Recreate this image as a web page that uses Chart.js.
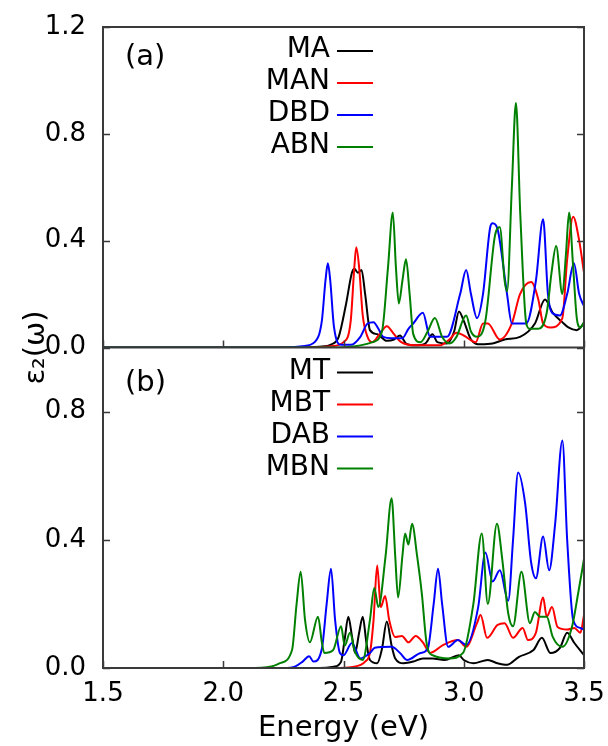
<!DOCTYPE html>
<html>
<head>
<meta charset="utf-8">
<script src="https://cdn.jsdelivr.net/npm/chart.js@4.4.1/dist/chart.umd.min.js"></script>
<style>
  html, body { margin: 0; padding: 0; background: #fff; }
  #wrap { width: 608px; height: 746px; position: relative; }
</style>
</head>
<body>
<div id="wrap"><canvas id="epsChart"></canvas></div>
<script>
// energy ticks (eV) and panel tick labels
const xTicks = [1.5, 2.0, 2.5, 3.0, 3.5];
const topTicks = [0.0, 0.4, 0.8, 1.2];
const bottomTicks = [0.0, 0.4, 0.8];

// panel (a) series, [energy, eps2]
const MA = [[1.5,0],[2.3,0],[2.4,0.003],[2.45,0.012],[2.48,0.04],[2.51,0.16],[2.535,0.28],[2.545,0.295],[2.56,0.28],[2.575,0.29],[2.59,0.2],[2.61,0.065],[2.64,0.05],[2.68,0.025],[2.71,0.03],[2.735,0.045],[2.76,0.015],[2.8,0.008],[2.84,0.015],[2.87,0.05],[2.89,0.02],[2.93,0.015],[2.96,0.06],[2.98,0.135],[3.0,0.1],[3.03,0.03],[3.07,0.012],[3.12,0.015],[3.17,0.03],[3.234,0.04],[3.296,0.09],[3.338,0.18],[3.37,0.13],[3.41,0.095],[3.435,0.075],[3.47,0.065],[3.5,0.09]];
const MAN = [[1.5,0],[2.35,0],[2.45,0.005],[2.5,0.02],[2.53,0.1],[2.545,0.3],[2.553,0.375],[2.565,0.3],[2.58,0.12],[2.6,0.04],[2.62,0.02],[2.65,0.05],[2.68,0.08],[2.71,0.05],[2.74,0.02],[2.8,0.008],[2.9,0.008],[2.94,0.03],[2.97,0.055],[3.0,0.045],[3.05,0.02],[3.08,0.09],[3.1,0.09],[3.15,0.03],[3.2,0.09],[3.234,0.2],[3.28,0.245],[3.31,0.18],[3.33,0.09],[3.36,0.075],[3.41,0.11],[3.43,0.33],[3.455,0.49],[3.48,0.4],[3.5,0.28]];
const DBD = [[1.5,0],[2.25,0],[2.33,0.005],[2.38,0.02],[2.41,0.1],[2.425,0.25],[2.435,0.315],[2.445,0.25],[2.46,0.08],[2.49,0.01],[2.53,0.01],[2.57,0.04],[2.6,0.09],[2.625,0.095],[2.645,0.07],[2.665,0.04],[2.7,0.035],[2.745,0.035],[2.77,0.07],[2.79,0.09],[2.83,0.13],[2.86,0.04],[2.93,0.04],[2.985,0.2],[3.01,0.29],[3.03,0.2],[3.055,0.11],[3.08,0.2],[3.11,0.45],[3.12,0.465],[3.14,0.445],[3.18,0.2],[3.2,0.09],[3.26,0.09],[3.3,0.25],[3.33,0.48],[3.35,0.2],[3.367,0.13],[3.4,0.12],[3.43,0.2],[3.458,0.315],[3.48,0.2],[3.5,0.155]];
const ABN = [[1.5,0],[2.45,0],[2.55,0.005],[2.62,0.02],[2.66,0.06],[2.685,0.3],[2.705,0.505],[2.718,0.3],[2.73,0.165],[2.745,0.25],[2.76,0.33],[2.775,0.2],[2.79,0.05],[2.82,0.02],[2.85,0.06],[2.88,0.11],[2.91,0.04],[2.94,0.015],[2.97,0.04],[3.0,0.11],[3.01,0.12],[3.03,0.06],[3.055,0.04],[3.09,0.1],[3.13,0.42],[3.15,0.45],[3.17,0.25],[3.18,0.21],[3.2,0.6],[3.217,0.915],[3.235,0.5],[3.26,0.09],[3.275,0.07],[3.31,0.07],[3.345,0.13],[3.365,0.28],[3.384,0.38],[3.41,0.2],[3.425,0.35],[3.438,0.505],[3.455,0.3],[3.47,0.11],[3.485,0.075],[3.5,0.095]];

// panel (b) series
const MT = [[1.5,0],[2.4,0],[2.46,0.004],[2.49,0.02],[2.505,0.09],[2.52,0.16],[2.535,0.1],[2.548,0.047],[2.565,0.11],[2.58,0.16],[2.595,0.08],[2.61,0.025],[2.64,0.015],[2.66,0.06],[2.68,0.145],[2.7,0.07],[2.715,0.03],[2.75,0.015],[2.79,0.02],[2.83,0.03],[2.87,0.03],[2.92,0.025],[2.98,0.04],[3.0,0.025],[3.04,0.015],[3.1,0.025],[3.14,0.015],[3.18,0.01],[3.23,0.035],[3.29,0.056],[3.325,0.094],[3.36,0.047],[3.4,0.063],[3.43,0.11],[3.46,0.078],[3.5,0.04]];
const MBT = [[1.5,0],[2.45,0],[2.55,0.005],[2.59,0.02],[2.61,0.047],[2.625,0.15],[2.64,0.32],[2.655,0.19],[2.673,0.225],[2.69,0.15],[2.715,0.097],[2.743,0.1],[2.77,0.08],[2.8,0.1],[2.83,0.08],[2.86,0.047],[2.915,0.072],[2.976,0.087],[3.01,0.066],[3.055,0.14],[3.07,0.165],[3.097,0.094],[3.14,0.134],[3.17,0.14],[3.205,0.094],[3.245,0.125],[3.267,0.087],[3.3,0.11],[3.33,0.22],[3.345,0.16],[3.367,0.19],[3.39,0.128],[3.43,0.12],[3.46,0.125],[3.485,0.11],[3.5,0.165]];
const DAB = [[1.5,0],[2.25,0],[2.3,0.005],[2.33,0.02],[2.357,0.037],[2.375,0.02],[2.41,0.06],[2.43,0.2],[2.448,0.31],[2.465,0.15],[2.485,0.047],[2.5,0.04],[2.535,0.078],[2.57,0.03],[2.61,0.047],[2.63,0.063],[2.7,0.066],[2.735,0.047],[2.765,0.025],[2.82,0.047],[2.85,0.06],[2.875,0.2],[2.893,0.31],[2.91,0.2],[2.935,0.066],[2.976,0.087],[3.01,0.072],[3.06,0.19],[3.09,0.36],[3.12,0.27],[3.15,0.305],[3.185,0.21],[3.205,0.4],[3.226,0.61],[3.255,0.515],[3.28,0.33],[3.3,0.28],[3.33,0.41],[3.355,0.305],[3.38,0.45],[3.41,0.71],[3.43,0.4],[3.455,0.15],[3.485,0.125],[3.5,0.12]];
const MBN = [[1.5,0],[2.1,0],[2.2,0.005],[2.236,0.015],[2.286,0.056],[2.305,0.2],[2.322,0.3],[2.34,0.15],[2.36,0.08],[2.394,0.16],[2.41,0.08],[2.42,0.047],[2.457,0.056],[2.49,0.13],[2.505,0.07],[2.527,0.11],[2.548,0.05],[2.58,0.025],[2.61,0.15],[2.628,0.25],[2.645,0.19],[2.675,0.35],[2.7,0.53],[2.715,0.35],[2.727,0.22],[2.745,0.35],[2.756,0.42],[2.77,0.385],[2.785,0.45],[2.806,0.35],[2.826,0.23],[2.845,0.08],[2.87,0.04],[2.94,0.03],[2.997,0.047],[3.04,0.2],[3.075,0.42],[3.1,0.2],[3.138,0.45],[3.16,0.34],[3.185,0.17],[3.205,0.13],[3.24,0.3],[3.275,0.14],[3.296,0.175],[3.317,0.16],[3.345,0.16],[3.37,0.097],[3.41,0.066],[3.45,0.128],[3.475,0.23],[3.5,0.34]];

const FONT = 'DejaVu Sans';
const FRAME = '#3a3a3a';

function line(label, pts, color, axis, order) {
    return {
        label : label,
        data : pts.map(p => ({x : p[0], y : p[1]})),
        yAxisID : axis,
        borderColor : color,
        backgroundColor : color,
        borderWidth : 2,
        pointRadius : 0,
        cubicInterpolationMode : 'monotone',
        order : order
    };
}

// frame, inward ticks, panel tags, in-panel legends and the y title
let panelDecor = {
    id : 'panelDecor',
    afterDatasetsDraw(chart) {
        let ctx = chart.ctx;
        let area = chart.chartArea;
        let x = chart.scales.x, yA = chart.scales.yA, yB = chart.scales.yB;
        ctx.save();
        ctx.strokeStyle = FRAME;
        ctx.lineWidth = 2;
        ctx.strokeRect(area.left, area.top, area.right - area.left, area.bottom - area.top);
        ctx.beginPath();
        ctx.moveTo(area.left, yA.bottom);
        ctx.lineTo(area.right, yA.bottom);
        ctx.stroke();

        let tl = 7;
        ctx.beginPath();
        [[yA, topTicks], [yB, bottomTicks]].forEach(([s, vals]) => {
            vals.forEach(v => {
                let py = Math.round(s.getPixelForValue(v)) + 0.5;
                ctx.moveTo(area.left, py); ctx.lineTo(area.left + tl, py);
                ctx.moveTo(area.right, py); ctx.lineTo(area.right - tl, py);
            });
        });
        xTicks.forEach(v => {
            let px = Math.round(x.getPixelForValue(v)) + 0.5;
            [yA.bottom, yB.bottom].forEach(b => {
                ctx.moveTo(px, b); ctx.lineTo(px, b - tl);
            });
        });
        ctx.lineWidth = 1.5;
        ctx.stroke();

        ctx.fillStyle = '#000';
        ctx.font = '29px "' + FONT + '"';
        ctx.textBaseline = 'middle';
        ctx.textAlign = 'left';
        ctx.fillText('(a)', area.left + 22, yA.top + 30);
        ctx.fillText('(b)', area.left + 22, yB.top + 36);

        // legends, label then a short line sample
        ctx.font = '28px "' + FONT + '"';
        ctx.textAlign = 'right';
        let rowsTop = {yA : yA.top + 23, yB : yB.top + 24};
        let count = {yA : 0, yB : 0};
        chart.data.datasets.forEach(ds => {
            let ry = rowsTop[ds.yAxisID] + 32 * count[ds.yAxisID]++;
            ctx.fillStyle = '#000';
            ctx.fillText(ds.label, 330, ry);
            ctx.beginPath();
            ctx.strokeStyle = ds.borderColor;
            ctx.lineWidth = 2;
            ctx.moveTo(337, ry + 1);
            ctx.lineTo(373, ry + 1);
            ctx.stroke();
        });

        ctx.translate(36, yA.bottom);
        ctx.rotate(-Math.PI / 2);
        ctx.textAlign = 'center';
        ctx.font = '29px "' + FONT + '"';
        ctx.fillText('ε₂(ω)', 0, 0);
        ctx.restore();
    }
};

let yTickFont = {family : FONT, size : 26};

let chartContainer = document.getElementById('epsChart').getContext('2d');

let config = {
    type : 'line',
    data : {
        datasets : [
            line('MA', MA, '#000000', 'yA', 4),
            line('MAN', MAN, '#ff0000', 'yA', 3),
            line('DBD', DBD, '#0000ff', 'yA', 2),
            line('ABN', ABN, '#008000', 'yA', 1),
            line('MT', MT, '#000000', 'yB', 4),
            line('MBT', MBT, '#ff0000', 'yB', 3),
            line('DAB', DAB, '#0000ff', 'yB', 2),
            line('MBN', MBN, '#008000', 'yB', 1)
        ]
    },
    options : {
        responsive : true,
        maintainAspectRatio : false,
        animation : false,
        layout : {padding : {top : 27, right : 24, left : 0, bottom : 0}},
        plugins : {
            legend : {display : false},
            tooltip : {enabled : false}
        },
        scales : {
            x : {
                type : 'linear',
                min : 1.5,
                max : 3.5,
                grid : {display : false},
                border : {display : false},
                afterFit : s => { s.height = 78; },
                afterBuildTicks : s => { s.ticks = xTicks.map(v => ({value : v})); },
                ticks : {
                    color : '#000',
                    font : yTickFont,
                    padding : 3,
                    maxRotation : 0,
                    callback : v => v.toFixed(1)
                },
                title : {
                    display : true,
                    text : 'Energy (eV)',
                    color : '#000',
                    font : {family : FONT, size : 29},
                    padding : {top : 0, bottom : 0}
                }
            },
            // bottom panel listed first so the stack puts (a) on top
            yB : {
                type : 'linear',
                position : 'left',
                stack : 'panels',
                stackWeight : 1,
                min : 0,
                max : 1.0,
                grid : {display : false},
                border : {display : false},
                afterFit : s => { s.width = 103; },
                afterBuildTicks : s => { s.ticks = bottomTicks.map(v => ({value : v})); },
                ticks : {
                    color : '#000',
                    font : yTickFont,
                    padding : 9,
                    callback : v => v.toFixed(1)
                }
            },
            yA : {
                type : 'linear',
                position : 'left',
                stack : 'panels',
                stackWeight : 1,
                min : 0,
                max : 1.2,
                grid : {display : false},
                border : {display : false},
                afterFit : s => { s.width = 103; },
                afterBuildTicks : s => { s.ticks = topTicks.map(v => ({value : v})); },
                ticks : {
                    color : '#000',
                    font : yTickFont,
                    padding : 9,
                    callback : v => v.toFixed(1)
                }
            }
        }
    },
    plugins : [panelDecor]
};

let chart = new Chart(chartContainer, config);
</script>
</body>
</html>
